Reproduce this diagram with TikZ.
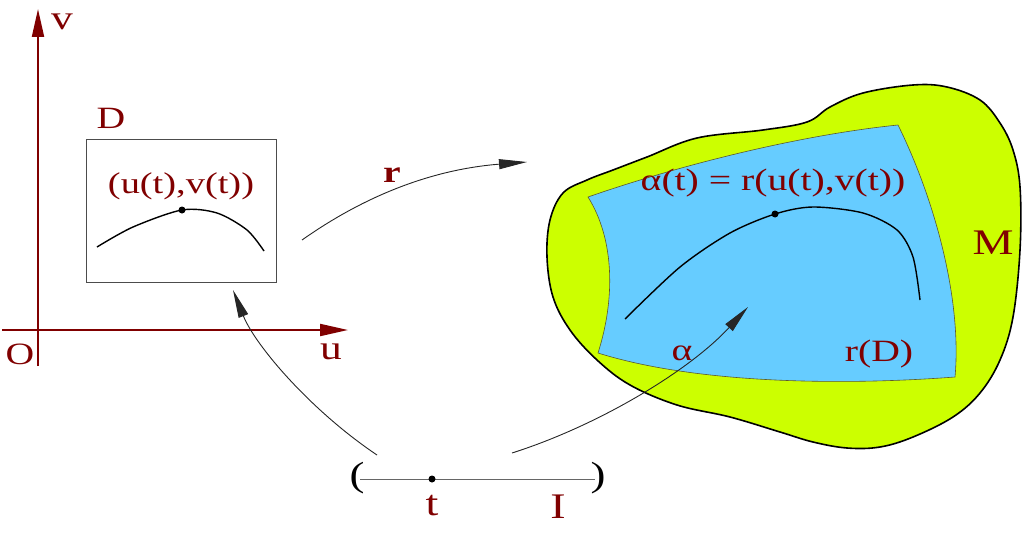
\documentclass[tikz,border=0pt]{standalone}
\usepackage{fontspec}
\setmainfont{Liberation Serif}[FakeStretch=1.28]
\usetikzlibrary{arrows.meta}
\definecolor{dred}{RGB}{128,0,0}
\definecolor{mgreen}{RGB}{204,255,0}
\definecolor{rblue}{RGB}{102,204,255}
\begin{document}
\begin{tikzpicture}[x=1pt,y=-1pt,
  lbl/.style={text=dred,font=\fontsize{31}{36}\selectfont,inner sep=0pt},
  axis/.style={dred,line width=2pt,-{Triangle[length=28pt,width=12pt]}},
  map/.style={black!85,line width=0.9pt,-{Triangle[length=28pt,width=10pt]}},
  crv/.style={black,line width=1.4pt},
  dot/.style={circle,fill=black,inner sep=0pt,minimum size=7pt}]
\useasboundingbox (0,0) rectangle (1024,535);
% axes
\coordinate (ustart) at (2,330);
\coordinate (uend) at (348,330);
\coordinate (vstart) at (38,366);
\coordinate (vend) at (38,9);
\draw[axis] (ustart) -- (uend);
\draw[axis] (vstart) -- (vend);
\node[lbl,font=\fontsize{34}{40}\selectfont] (lv) at (62,22) {v};
\node[lbl] (lO) at (20,354) {O};
\node[lbl,font=\fontsize{34}{40}\selectfont] (lu) at (331,352) {u};
% domain D
\node[draw=black!70,line width=0.8pt,minimum width=190pt,minimum height=143pt,inner sep=0pt] (D) at (181,210.5) {};
\node[lbl] (lD) at (111,118) {D};
\node[lbl,font=\fontsize{30}{36}\selectfont] (luv) at (181,186) {(u(t),v(t))};
\draw[crv] plot[smooth] coordinates {(97,247) (133,227) (182,210) (217,213) (247,230) (264,251)};
\node[dot] (p1) at (182,210) {};
% surface M
\filldraw[fill=mgreen,draw=black,line width=1.6pt] plot[smooth cycle,tension=0.6] coordinates {
 (547,257) (550,220) (563,193) (587,180) (613,170) (647,157) (697,138) (763,130) (807,122) (830,107)
 (863,93) (913,85) (947,87) (980,100) (1000,123) (1013,150) (1020,187) (1020,250) (1013,317) (1000,360)
 (980,393) (953,417) (913,437) (880,447) (847,448) (813,442) (780,432) (730,417) (677,405) (630,385)
 (597,360) (570,330) (553,297)};
% r(D)
\filldraw[fill=rblue,draw=black!45!olive,line width=0.6pt] (588,197) .. controls (680,165) and (800,135) .. (898,125)
  .. controls (935,200) and (962,300) .. (955,377)
  .. controls (850,385) and (700,385) .. (598,353)
  .. controls (615,300) and (615,240) .. (588,197) -- cycle;
\draw[crv] plot[smooth] coordinates {(625,319) (680,267) (730,233) (775,214) (813,207) (863,213) (897,230) (913,257) (920,300)};
\node[dot] (p2) at (775,214) {};
\node[lbl] (lalpha) at (773,183) {α(t) = r(u(t),v(t))};
\node[lbl,font=\fontsize{36}{40}\selectfont] (lM) at (993,243) {M};
\node[lbl] (lrD) at (879,354) {r(D)};
\node[lbl] (la) at (682,353) {α};
% interval I
\coordinate (Ia) at (360,479);
\coordinate (Ib) at (595,479);
\draw[black!60,line width=1pt] (Ia) -- (Ib);
\node[inner sep=0pt,font=\fontsize{35}{40}\selectfont] (lp) at (357,478) {(};
\node[inner sep=0pt,font=\fontsize{35}{40}\selectfont] (rp) at (598,478) {)};
\node[dot] (pt) at (432,479) {};
\node[lbl,font=\fontsize{36}{40}\selectfont] (lt) at (432,506) {t};
\node[lbl,font=\fontsize{36}{40}\selectfont] (lI) at (558,507) {I};
% maps
\coordinate (rs) at (302,240);
\coordinate (re) at (527,162);
\draw[map] (rs) .. controls (380,185) and (450,168) .. (re);
\node[lbl,font=\bfseries\fontsize{31}{36}\selectfont] (lr) at (392,175) {r};
\coordinate (ds) at (377,455);
\coordinate (de) at (233,290);
\draw[map] (ds) .. controls (310,410) and (255,345) .. (de);
\coordinate (as) at (512,453);
\coordinate (ae) at (748,307);
\draw[map] (as) .. controls (600,425) and (690,370) .. (ae);
\end{tikzpicture}
\end{document}
